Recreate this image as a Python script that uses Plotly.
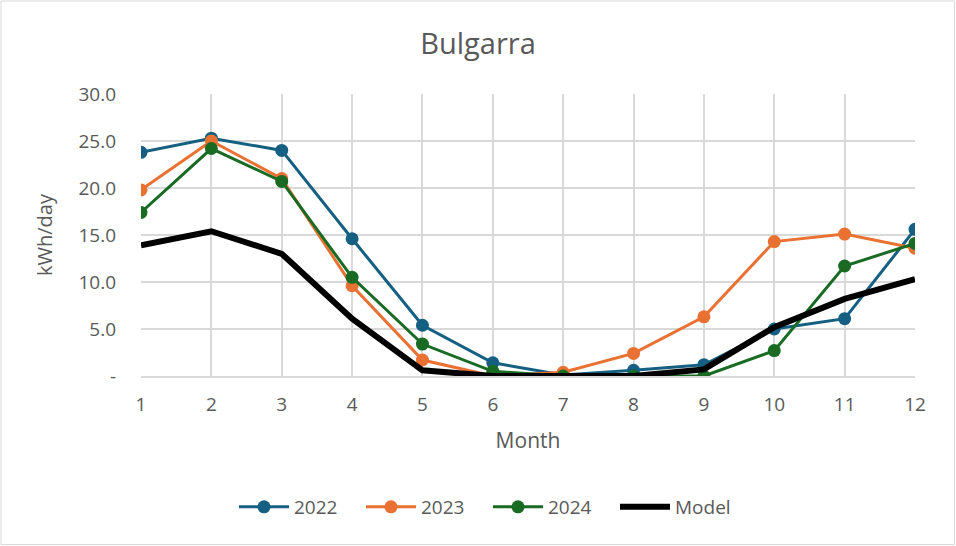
import plotly.graph_objects as go

months = list(range(1, 13))
y2022 = [23.8, 25.3, 24.0, 14.6, 5.4, 1.4, 0.1, 0.6, 1.2, 5.0, 6.1, 15.6]
y2023 = [19.8, 25.0, 21.0, 9.6, 1.7, 0.0, 0.4, 2.4, 6.3, 14.3, 15.1, 13.6]
y2024 = [17.4, 24.2, 20.7, 10.5, 3.4, 0.5, 0.0, 0.0, 0.0, 2.7, 11.7, 14.1]
model = [13.9, 15.4, 13.0, 6.1, 0.6, 0.0, 0.0, 0.0, 0.7, 5.2, 8.2, 10.3]

ytick_vals = [0, 5, 10, 15, 20, 25, 30]
ytick_text = ["-", "5.0", "10.0", "15.0", "20.0", "25.0", "30.0"]

FONT = "Open Sans"
TXT = "#595959"
GRID = "#D9D9D9"

fig = go.Figure()
series = [("2022", y2022, "#156082"), ("2023", y2023, "#E97132"), ("2024", y2024, "#196B24")]
for name, ys, col in series:
    fig.add_trace(go.Scatter(x=months, y=ys, name=name, mode="lines+markers",
                             line=dict(color=col, width=3),
                             marker=dict(color=col, size=13)))
fig.add_trace(go.Scatter(x=months, y=model, name="Model", mode="lines",
                         line=dict(color="#000000", width=6)))

fig.update_layout(
    width=956, height=546,
    margin=dict(l=141, r=41, t=94, b=170),
    paper_bgcolor="white", plot_bgcolor="white",
    font=dict(family=FONT, color=TXT, size=19),
    title=dict(text="Bulgarra", x=0.5, xanchor="center", y=1 - 44 / 546, yanchor="middle",
               font=dict(size=29, color=TXT, family=FONT)),
    xaxis=dict(range=[1, 12], tickvals=months, showgrid=True, gridcolor=GRID, gridwidth=1.5,
               showline=True, linecolor=GRID, linewidth=1.5, zeroline=False,
               ticks="", ticklabelstandoff=10,
               title=dict(text="Month", font=dict(size=21, color=TXT), standoff=18)),
    yaxis=dict(range=[0, 30], tickvals=ytick_vals, ticktext=ytick_text, showgrid=True,
               gridcolor=GRID, gridwidth=1.5, zeroline=False, showline=False, ticks="",
               ticklabelstandoff=24,
               title=dict(text="kWh/day", font=dict(size=20, color=TXT), standoff=20)),
    legend=dict(orientation="h", x=(488 - 141) / 774, xanchor="center", y=(376 - 507) / 282,
                yanchor="middle", font=dict(size=19, color=TXT), itemwidth=50,
                entrywidth=62, entrywidthmode="pixels",
                bgcolor="rgba(0,0,0,0)"),
    showlegend=True,
)

fig.add_shape(type="rect", xref="paper", yref="paper",
              x0=(1 - 141) / 774, x1=(954.5 - 141) / 774,
              y0=(376 - 544.5) / 282, y1=(376 - 1) / 282,
              line=dict(color="#D9D9D9", width=1), fillcolor="rgba(0,0,0,0)", layer="below")

fig.write_html("out.html", config={"displayModeBar": False},
               post_script="document.body.style.margin='0';document.body.style.overflow='hidden';")
